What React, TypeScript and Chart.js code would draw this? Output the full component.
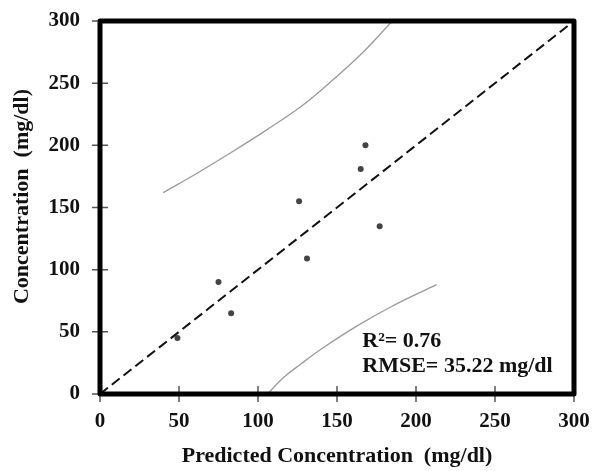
import React, { useEffect, useRef } from "react";
import { Chart, registerables } from "chart.js";

Chart.register(...registerables);

// Scatter points: predicted (x) vs measured (y) concentration, mg/dl
const predicted = [49, 75, 83, 126, 131, 165, 168, 177];
const observed = [45, 90, 65, 155, 109, 181, 200, 135];

// Upper and lower limit curves
const upperX = [40, 62, 84, 105, 127, 145, 165, 185];
const upperY = [162, 178, 195, 212, 231, 250, 273, 300];
const lowerX = [106, 116, 127, 141, 163, 184, 213];
const lowerY = [0, 13, 24, 37, 55, 70, 88];

// Identity (1:1) line
const identityX = [0, 300];
const identityY = [0, 300];

// Axes
const axisMin = 0;
const axisMax = 300;
const axisStep = 50;

// Texts
const xTitle = "Predicted Concentration  (mg/dl)";
const yTitle = "    Concentration  (mg/dl)";
const statLines = ["R\u00b2= 0.76", "RMSE= 35.22 mg/dl"];
const statAnchorX = 166;
const statAnchorY = [38, 18];

const FONT = '"Liberation Serif", "Times New Roman", Times, serif';

const toXY = (xs: number[], ys: number[]) => xs.map((x, i) => ({ x, y: ys[i] }));

const framePlugin = {
  id: "frameAndNotes",
  afterDraw(chart: any) {
    const { ctx, chartArea: a, scales } = chart;
    const xs = scales.x;
    const ys = scales.y;
    ctx.save();
    // crossing tick marks
    ctx.strokeStyle = "#555";
    ctx.lineWidth = 1.5;
    ctx.beginPath();
    xs.ticks.forEach((_t: any, i: number) => {
      const px = xs.getPixelForTick(i);
      ctx.moveTo(px, a.bottom - 8);
      ctx.lineTo(px, a.bottom + 8);
    });
    ys.ticks.forEach((_t: any, i: number) => {
      const py = ys.getPixelForTick(i);
      ctx.moveTo(a.left - 8, py);
      ctx.lineTo(a.left + 8, py);
    });
    ctx.stroke();
    // thick frame
    ctx.strokeStyle = "#000";
    ctx.lineWidth = 5;
    ctx.lineJoin = "round";
    ctx.strokeRect(a.left, a.top, a.right - a.left, a.bottom - a.top);
    // statistics text
    ctx.fillStyle = "#111";
    ctx.font = `bold 22px ${FONT}`;
    ctx.textAlign = "left";
    ctx.textBaseline = "alphabetic";
    statLines.forEach((line, i) => {
      ctx.fillText(line, xs.getPixelForValue(statAnchorX), ys.getPixelForValue(statAnchorY[i]));
    });
    ctx.restore();
  },
};

export default function App() {
  const canvasRef = useRef<HTMLCanvasElement | null>(null);

  useEffect(() => {
    document.body.style.margin = "0";
    const canvas = canvasRef.current;
    if (!canvas) return;
    const chart = new Chart(canvas, {
      type: "scatter",
      data: {
        datasets: [
          {
            label: "1:1",
            data: toXY(identityX, identityY),
            showLine: true,
            borderColor: "#111",
            borderWidth: 2,
            borderDash: [10, 5],
            pointRadius: 0,
          },
          {
            label: "upper",
            data: toXY(upperX, upperY),
            showLine: true,
            borderColor: "#9a9a9a",
            borderWidth: 1.3,
            pointRadius: 0,
            tension: 0.4,
          },
          {
            label: "lower",
            data: toXY(lowerX, lowerY),
            showLine: true,
            borderColor: "#9a9a9a",
            borderWidth: 1.3,
            pointRadius: 0,
            tension: 0.4,
          },
          {
            label: "samples",
            data: toXY(predicted, observed),
            showLine: false,
            pointRadius: 3,
            pointBackgroundColor: "#444",
            pointBorderColor: "#444",
            borderWidth: 0,
          },
        ],
      } as any,
      options: {
        responsive: false,
        animation: false,
        devicePixelRatio: 1,
        layout: { padding: { left: 0, right: 18, top: 21, bottom: 0 } },
        plugins: {
          legend: { display: false },
          tooltip: { enabled: false },
        },
        scales: {
          x: {
            type: "linear",
            min: axisMin,
            max: axisMax,
            grid: { display: false, drawTicks: true, tickLength: 13 },
            border: { display: false },
            ticks: {
              stepSize: axisStep,
              padding: 2,
              color: "#111",
              font: { family: FONT, size: 21, weight: "bold" },
            },
            title: {
              display: true,
              text: xTitle,
              color: "#111",
              padding: { top: 0, bottom: 1 },
              font: { family: FONT, size: 22, weight: "bold" },
            },
            afterFit: (s: any) => {
              s.height = 77;
            },
          },
          y: {
            type: "linear",
            min: axisMin,
            max: axisMax,
            grid: { display: false, drawTicks: true, tickLength: 18 },
            border: { display: false },
            ticks: {
              stepSize: axisStep,
              padding: 2,
              color: "#111",
              font: { family: FONT, size: 21, weight: "bold" },
            },
            title: {
              display: true,
              text: yTitle,
              color: "#111",
              padding: { top: 9, bottom: 0 },
              font: { family: FONT, size: 22, weight: "bold" },
            },
            afterFit: (s: any) => {
              s.width = 100;
            },
          },
        },
      } as any,
      plugins: [framePlugin],
    });
    return () => chart.destroy();
  }, []);

  return (
    <div style={{ width: 592, height: 471, background: "#fff" }}>
      <canvas ref={canvasRef} width={592} height={471} style={{ display: "block" }} />
    </div>
  );
}
